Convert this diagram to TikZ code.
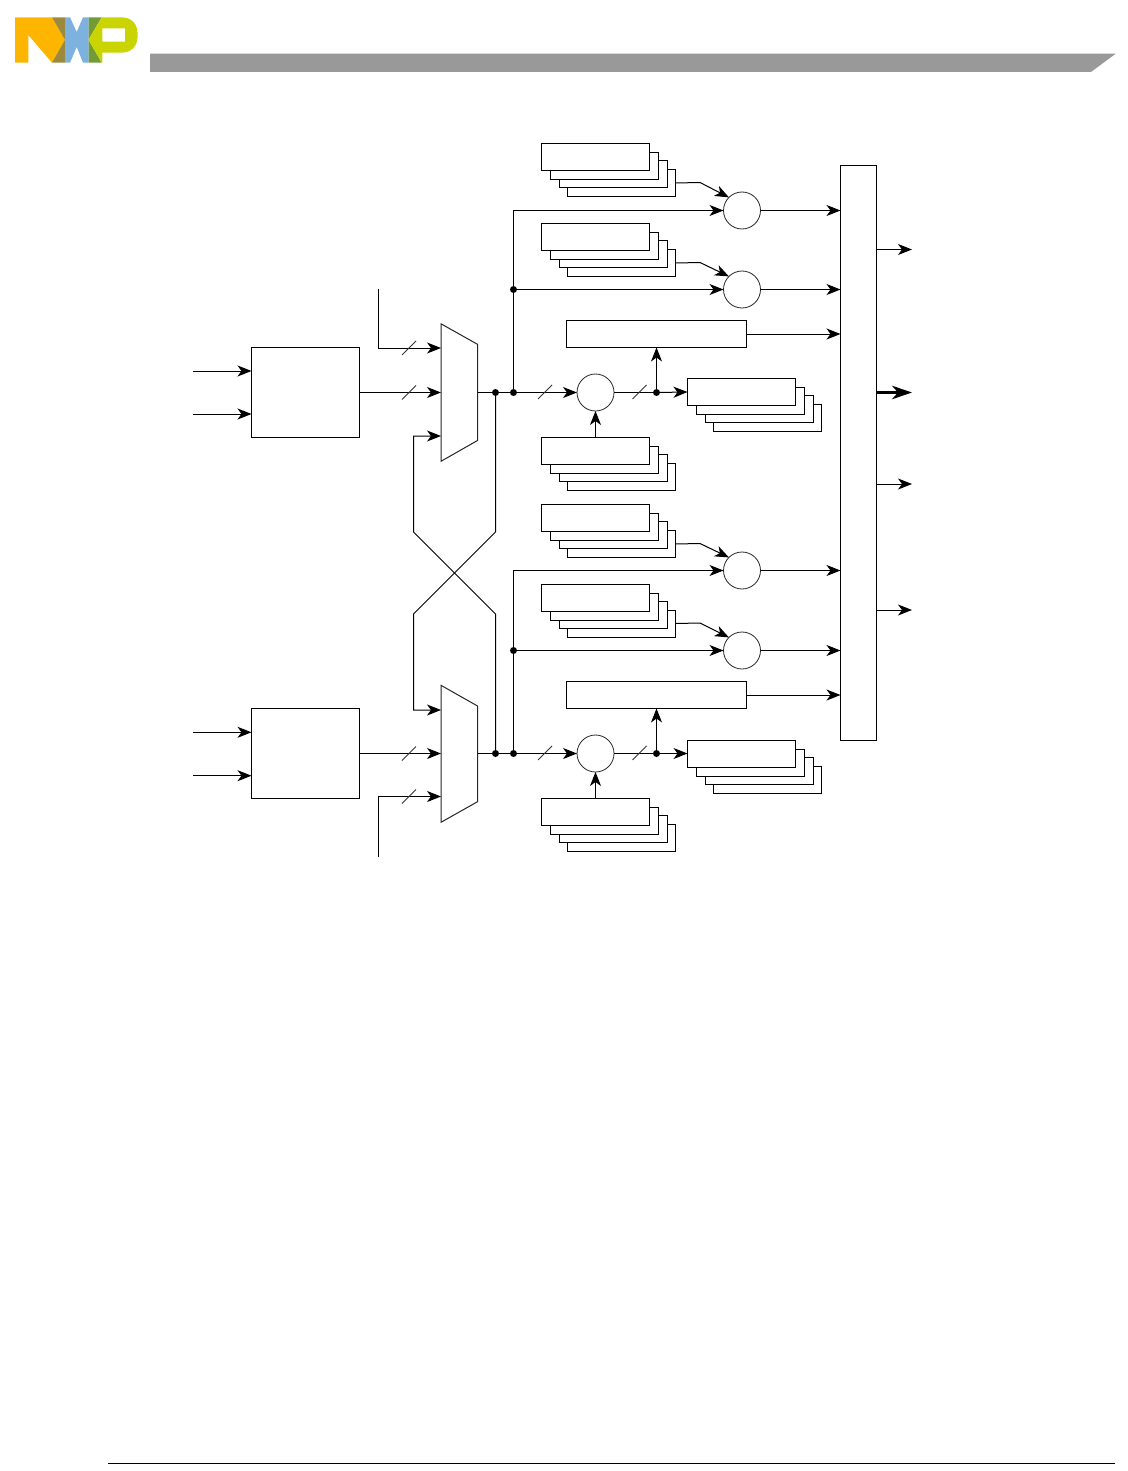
\documentclass[tikz,border=0pt]{standalone}
\usetikzlibrary{arrows.meta,calc}
\definecolor{nxpyellow}{HTML}{FDB500}
\definecolor{nxpolive}{HTML}{9B8A3E}
\definecolor{nxpblue}{HTML}{7CB2DD}
\definecolor{nxpgreen}{HTML}{729B37}
\definecolor{nxplime}{HTML}{C9D400}
\definecolor{headgrey}{HTML}{999999}
\tikzset{
  box/.style={draw=black,fill=white,line width=1pt,rectangle,inner sep=0pt,outer sep=0pt,anchor=north west},
  stackbox/.style={box,minimum width=108pt,minimum height=27pt},
  widebox/.style={box,minimum width=180pt,minimum height=27pt},
  inbox/.style={box,minimum width=108pt,minimum height=90pt},
  sumnode/.style={draw=black!85,fill=white,line width=.8pt,circle,inner sep=0pt,outer sep=0pt,minimum size=37pt},
  junction/.style={fill=black,circle,inner sep=0pt,outer sep=0pt,minimum size=7pt},
  wire/.style={line width=1pt,draw=black},
  arrowwire/.style={wire,-{Stealth[length=14pt,width=11pt,inset=4pt]}},
  heavywire/.style={line width=2.6pt,draw=black,-{Stealth[length=20pt,width=13.5pt,inset=6pt]}},
  slashmark/.style={line width=.8pt,draw=black!80},
  muxshape/.style={draw=black!85,fill=white,line width=1pt,line join=miter},
}
\newcommand{\stackat}[3]{%
  \node[stackbox] (#1-4) at (#2+26,#3+26) {};
  \node[stackbox] (#1-3) at (#2+18,#3+17) {};
  \node[stackbox] (#1-2) at (#2+9,#3+9) {};
  \node[stackbox] (#1) at (#2,#3) {};
}
\newcommand{\slashat}[1]{\draw[slashmark] ($(#1)+(-7,7)$) -- ($(#1)+(7,-7)$);}
\begin{document}
\begin{tikzpicture}[x=1pt,y=-1pt]
\useasboundingbox (0,0) rectangle (1127,1471);
% logo
\fill[nxpyellow] (15,17.3) -- (52,17.3) -- (65,39.8) -- (52,62.7) -- (28.3,35) -- (28.3,62.7) -- (15,62.7) -- cycle;
\fill[nxpolive] (52,17.3) -- (65,17.3) -- (65,39.8) -- cycle;
\fill[nxpolive] (65,39.8) -- (65,62.7) -- (52,62.7) -- cycle;
\fill[nxpblue] (65,17.3) -- (70,17.3) -- (76.7,32) -- (83,17.3) -- (88.5,17.3) -- (88.5,62.7) -- (83,62.7) -- (76.7,47) -- (70,62.7) -- (65,62.7) -- cycle;
\fill[nxpgreen] (88.5,17.3) -- (101.7,17.3) -- (88.5,39.8) -- cycle;
\fill[nxpgreen] (88.5,39.8) -- (101.7,62.7) -- (88.5,62.7) -- cycle;
\fill[nxplime,even odd rule] (101.7,17.3) -- (121,17.3) .. controls (132,17.3) and (137.7,24) .. (137.7,35) .. controls (137.7,46) and (132,52.7) .. (121,52.7) -- (102.3,52.7) -- (102.3,62.7) -- (101.7,62.7) -- (88.5,39.8) -- cycle
  (102.3,28.3) -- (102.3,41.7) -- (125,41.7) -- (125,28.3) -- cycle;
% header and footer
\fill[headgrey] (150,53.7) -- (1115.7,53.7) -- (1091,72) -- (150,72) -- cycle;
\draw[line width=1pt] (108,1463.5) -- (1115,1463.5);

% main collector
\node[box,minimum width=36pt,minimum height=575pt] (bus) at (840.5,165.5) {};
\coordinate (busout1) at (912,249.5);
\coordinate (busout2) at (912,392.5);
\coordinate (busout3) at (912,484);
\coordinate (busout4) at (912,610);

% upper channel
\node[inbox] (srcA) at (251.5,347.5) {};
\draw[muxshape] (441,323.8) coordinate (muxAtl) -- (477.5,344.3) -- (477.5,440.5) -- (441,461.3) -- cycle;
\coordinate (muxAi1) at (441,348);
\coordinate (muxAi2) at (441,392.5);
\coordinate (muxAi3) at (441,436);
\coordinate (muxAo) at (477.5,392.5);
\stackat{sa1}{541.5}{143.5}
\stackat{sa2}{541.5}{223.5}
\stackat{sa3}{541.5}{437.5}
\stackat{sa4}{687.5}{378.5}
\node[widebox] (wideA) at (566.5,320.5) {};
\node[sumnode] (ca1) at (742,210.5) {};
\node[sumnode] (ca2) at (742,289.5) {};
\node[sumnode] (ca3) at (595.5,392.5) {};
\node[junction] (ja1) at (495.5,392.5) {};
\node[junction] (ja2) at (513.5,392.5) {};
\node[junction] (ja3) at (513.5,289.5) {};
\node[junction] (ja4) at (656.5,392.5) {};

% lower channel
\node[inbox] (srcB) at (251.5,708.5) {};
\draw[muxshape] (441,685.3) coordinate (muxBtl) -- (477.5,706) -- (477.5,801.7) -- (441,822.3) -- cycle;
\coordinate (muxBi1) at (441,710);
\coordinate (muxBi2) at (441,753.5);
\coordinate (muxBi3) at (441,796.5);
\coordinate (muxBo) at (477.5,753.5);
\stackat{sb1}{541.5}{504.5}
\stackat{sb2}{541.5}{584}
\stackat{sb3}{541.5}{798.5}
\stackat{sb4}{687.5}{740}
\node[widebox] (wideB) at (566.5,681.5) {};
\node[sumnode] (cb1) at (742,570.5) {};
\node[sumnode] (cb2) at (742,650.5) {};
\node[sumnode] (cb3) at (595.5,753.5) {};
\node[junction] (jb1) at (495.5,753.5) {};
\node[junction] (jb2) at (513.5,753.5) {};
\node[junction] (jb3) at (513.5,650.5) {};
\node[junction] (jb4) at (656.5,753.5) {};

% free ends
\coordinate (inA1) at (193,371);
\coordinate (inA2) at (193,414);
\coordinate (inB1) at (193,732.3);
\coordinate (inB2) at (193,775.7);
\coordinate (extA) at (378.5,288.5);
\coordinate (extB) at (378.5,857);
\coordinate (xa1) at (413.5,532);
\coordinate (xa2) at (495.5,614);
\coordinate (xb1) at (495.5,532);
\coordinate (xb2) at (413.5,614);
\coordinate (ka1) at (700,182.5);
\coordinate (ka2) at (700,262.5);
\coordinate (kb1) at (700,543.5);
\coordinate (kb2) at (700,623);

% upper connectors
\draw[arrowwire] (inA1) -- (inA1 -| srcA.west);
\draw[arrowwire] (inA2) -- (inA2 -| srcA.west);
\draw[arrowwire] (srcA.east) -- (muxAi2);
\draw[arrowwire] (extA) |- (muxAi1);
\draw[wire] (muxAo) -- (ja2);
\draw[arrowwire] (ja2) -- (ca3.west);
\draw[wire] (ca3.east) -- (ja4);
\draw[arrowwire] (ja4) -- (sa4.west);
\draw[arrowwire] (ja4) -- (ja4 |- wideA.south);
\draw[arrowwire] (sa3.north -| ca3) -- (ca3.south);
\draw[arrowwire] (ja2) |- (ca1.west);
\draw[arrowwire] (ja3) -- (ca2.west);
\draw[wire] (sa1-4.east) -- (ka1);
\draw[arrowwire] (ka1) -- (ca1.north west);
\draw[wire] (sa2-4.east) -- (ka2);
\draw[arrowwire] (ka2) -- (ca2.north west);
\draw[arrowwire] (ca1.east) -- (ca1.east -| bus.west);
\draw[arrowwire] (ca2.east) -- (ca2.east -| bus.west);
\draw[arrowwire] (wideA.east) -- (wideA.east -| bus.west);

% lower connectors
\draw[arrowwire] (inB1) -- (inB1 -| srcB.west);
\draw[arrowwire] (inB2) -- (inB2 -| srcB.west);
\draw[arrowwire] (srcB.east) -- (muxBi2);
\draw[arrowwire] (extB) |- (muxBi3);
\draw[wire] (muxBo) -- (jb2);
\draw[arrowwire] (jb2) -- (cb3.west);
\draw[wire] (cb3.east) -- (jb4);
\draw[arrowwire] (jb4) -- (sb4.west);
\draw[arrowwire] (jb4) -- (jb4 |- wideB.south);
\draw[arrowwire] (sb3.north -| cb3) -- (cb3.south);
\draw[arrowwire] (jb2) |- (cb1.west);
\draw[arrowwire] (jb3) -- (cb2.west);
\draw[wire] (sb1-4.east) -- (kb1);
\draw[arrowwire] (kb1) -- (cb1.north west);
\draw[wire] (sb2-4.east) -- (kb2);
\draw[arrowwire] (kb2) -- (cb2.north west);
\draw[arrowwire] (cb1.east) -- (cb1.east -| bus.west);
\draw[arrowwire] (cb2.east) -- (cb2.east -| bus.west);
\draw[arrowwire] (wideB.east) -- (wideB.east -| bus.west);

% cross-over
\draw[arrowwire] (jb1) -- (xa2) -- (xa1) -- (xa1 |- muxAi3) -- (muxAi3);
\draw[arrowwire] (ja1) -- (xb1) -- (xb2) -- (xb2 |- muxBi1) -- (muxBi1);

% bus outputs
\draw[arrowwire] (busout1 -| bus.east) -- (busout1);
\draw[heavywire] (busout2 -| bus.east) -- (busout2);
\draw[arrowwire] (busout3 -| bus.east) -- (busout3);
\draw[arrowwire] (busout4 -| bus.east) -- (busout4);

% bus-width slashes
\coordinate (sl1) at (409,348);
\coordinate (sl2) at (409,392.5);
\coordinate (sl3) at (545,392);
\coordinate (sl4) at (639.5,392);
\coordinate (sl5) at (409,753.5);
\coordinate (sl6) at (409,796.5);
\coordinate (sl7) at (545,753);
\coordinate (sl8) at (639.5,753);
\slashat{sl1}\slashat{sl2}\slashat{sl3}\slashat{sl4}\slashat{sl5}\slashat{sl6}\slashat{sl7}\slashat{sl8}
\end{tikzpicture}
\end{document}
